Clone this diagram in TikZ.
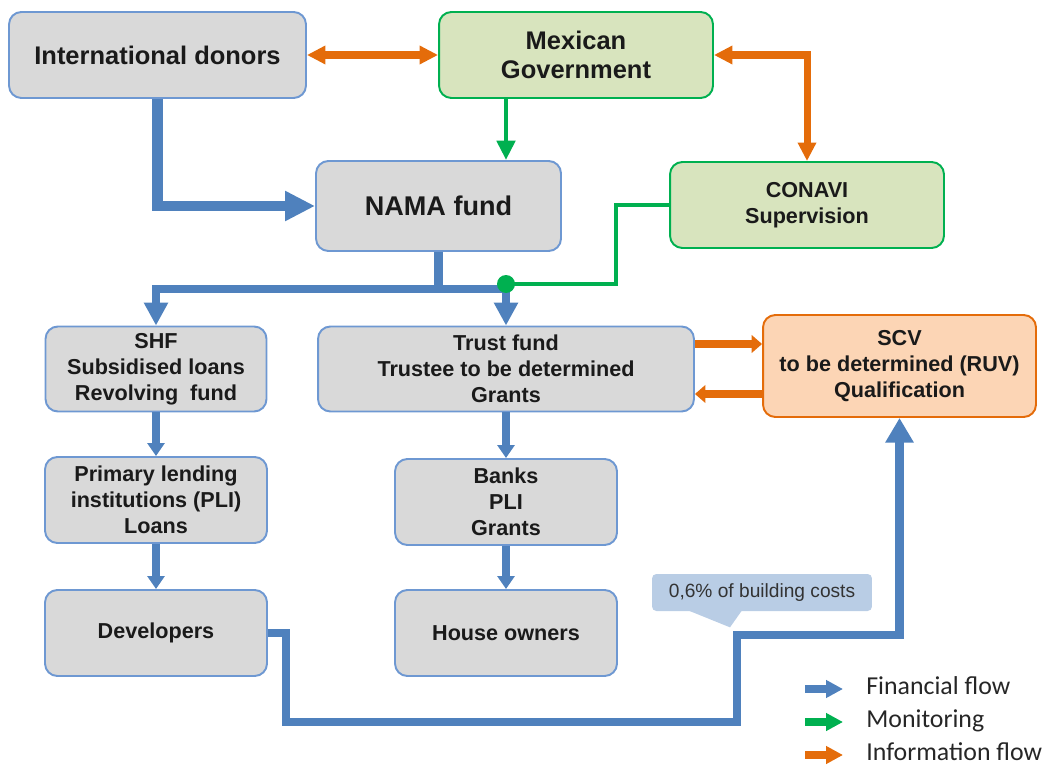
\documentclass[tikz,border=0pt]{standalone}
\usepackage{fontspec}
\setmainfont{Liberation Sans}
\newfontfamily\legendfont{Carlito}
\usepackage{xcolor}
\usepackage{tikz}
\usetikzlibrary{arrows.meta,calc}
\definecolor{flowblue}{RGB}{79,129,189}
\definecolor{boxedge}{RGB}{110,152,210}
\definecolor{boxgray}{RGB}{217,217,217}
\definecolor{boxtext}{RGB}{26,26,26}
\definecolor{mongreen}{RGB}{0,176,80}
\definecolor{govfill}{RGB}{216,228,190}
\definecolor{infoorange}{RGB}{228,108,10}
\definecolor{scvfill}{RGB}{252,213,181}
\definecolor{noteblue}{RGB}{185,205,229}
\newcommand{\boxfont}{\fontsize{12.3}{14.8}\selectfont\bfseries}
\newcommand{\titlefont}{\fontsize{14.5}{16.4}\selectfont\bfseries}
\newcommand{\namafont}{\fontsize{15.4}{18}\selectfont\bfseries}
\tikzset{
  boxnode/.style={draw=boxedge,fill=boxgray,line width=1.1pt,rounded corners=7pt,
    align=center,inner sep=0pt,text=boxtext,font=\boxfont},
  greenbox/.style={boxnode,draw=mongreen,fill=govfill},
  orangebox/.style={boxnode,draw=infoorange,fill=scvfill},
  mainflow/.style={-{Triangle[length=17pt,width=16pt]},line width=6.2pt,draw=flowblue},
  retflow/.style={-{Triangle[length=14pt,width=15.3pt]},line width=5.1pt,draw=flowblue},
  fanline/.style={line width=4.8pt,draw=flowblue},
  fanflow/.style={-{Triangle[length=13pt,width=13pt]},line width=4.8pt,draw=flowblue},
  stepflow/.style={-{Triangle[length=7.4pt,width=9.6pt]},line width=4.5pt,draw=flowblue},
  infoboth/.style={{Triangle[length=10.5pt,width=10pt]}-{Triangle[length=10.5pt,width=10pt]},
    line width=4pt,draw=infoorange},
  infoflow/.style={-{Triangle[length=6pt,width=10pt]},line width=4.8pt,draw=infoorange},
  monflow/.style={-{Triangle[length=11pt,width=10.2pt]},line width=2.8pt,draw=mongreen},
  monline/.style={line width=2.8pt,draw=mongreen},
  mondot/.style={circle,fill=mongreen,minimum size=0.36cm,inner sep=0pt}
}

\begin{document}
\begin{tikzpicture}[
  x=0.02cm,y=-0.02cm,
  costnote/.style={fill=noteblue,rounded corners=2.5pt,minimum width=4.4cm,minimum height=0.74cm,
    inner sep=0pt,text=black!80,font=\fontsize{10.9}{12}\selectfont},
  legtext/.style={anchor=west,inner sep=0pt,text height=1.5ex,text depth=0.3ex,
    text=black!85,font=\legendfont\fontsize{14.7}{16}\selectfont},
  legarrow/.style={-{Triangle[length=9.6pt,width=9.6pt]},line width=4pt}
]
  \useasboundingbox (0,0) rectangle (1050,766);

  % boxes
  \node[boxnode,font=\titlefont,minimum width=5.94cm,minimum height=1.72cm] (donors) at (157.5,55) {International donors};
  \node[greenbox,font=\titlefont,minimum width=5.48cm,minimum height=1.72cm] (gov) at (576,55) {Mexican\\Government};
  \node[boxnode,font=\namafont,minimum width=4.9cm,minimum height=1.8cm] (nama) at (438.5,206) {NAMA fund};
  \node[greenbox,minimum width=5.48cm,minimum height=1.72cm] (conavi) at (807,205) {CONAVI\\Supervision};

  \node[boxnode,minimum width=4.42cm,minimum height=1.7cm] (shf) at (156,369) {SHF\\Subsidised loans\\Revolving\ \ fund};
  \node[boxnode,minimum width=7.52cm,minimum height=1.7cm] (trust) at (506,369) {Trust fund\\Trustee to be determined\\Grants};
  \node[orangebox,minimum width=5.46cm,minimum height=2.04cm] (scv) at (899.5,366) {SCV\\to be determined (RUV)\\Qualification};

  \node[boxnode,minimum width=4.44cm,minimum height=1.72cm] (pli) at (156,500) {Primary lending\\institutions (PLI)\\Loans};
  \node[boxnode,minimum width=4.44cm,minimum height=1.72cm] (banks) at (506,502) {Banks\\PLI\\Grants};
  \node[boxnode,minimum width=4.44cm,minimum height=1.72cm] (dev) at (156,633) {Developers};
  \node[boxnode,minimum width=4.44cm,minimum height=1.72cm] (owners) at (506,633) {House owners};

  % routing points
  \coordinate (split)   at (506,289);
  \coordinate (monturn) at (616,284);
  \coordinate (d1) at (286,722);
  \coordinate (d2) at (737,635);
  \coordinate (iu) at ([yshift=0.5cm]trust.east);
  \coordinate (il) at ([yshift=-0.5cm]trust.east);

  % information flow
  \draw[infoboth] (donors) -- (gov);
  \draw[infoboth] (gov.east) -| (conavi.north);
  \draw[infoflow] (iu) -- (iu -| scv.west);
  \draw[infoflow] (il -| scv.west) -- (il);

  % financial flow
  \draw[mainflow] (donors.south) |- (nama.west);
  \draw[fanline] (nama.south) -- (nama.south |- split);
  \draw[fanflow] (split) -| (shf.north);
  \draw[fanflow] (split) -- (trust.north);
  \draw[stepflow] (shf) -- (pli);
  \draw[stepflow] (pli) -- (dev);
  \draw[stepflow] (trust) -- (banks);
  \draw[stepflow] (banks) -- (owners);
  \draw[retflow] (dev.east) -| (d1) -| (d2) -| (scv.south);

  % monitoring
  \draw[monflow] (gov.south -| split) -- (nama.north -| split);
  \draw[monline] (conavi.west) -| (monturn) -- (split |- monturn);
  \node[mondot] (join) at (split |- monturn) {};

  % note on the fee
  \node[costnote] (costs) at (762,592.5) {0,6\% of building costs};
  \fill[noteblue] ($(costs.south)+(-74,-1)$) -- ($(costs.south)+(-32,16)$)
    -- ($(costs.south)+(-20,-1)$) -- cycle;

  % legend
  \foreach \y/\c/\lab [count=\i] in {689/flowblue/Financial flow,722/mongreen/Monitoring,755/infoorange/Information flow}{
    \node[legtext] (leg\i) at (866,\y) {\lab};
    \draw[legarrow,draw=\c,fill=\c] ($(leg\i.west)+(-61,0)$) -- ($(leg\i.west)+(-23,0)$);
  }
\end{tikzpicture}
\end{document}
